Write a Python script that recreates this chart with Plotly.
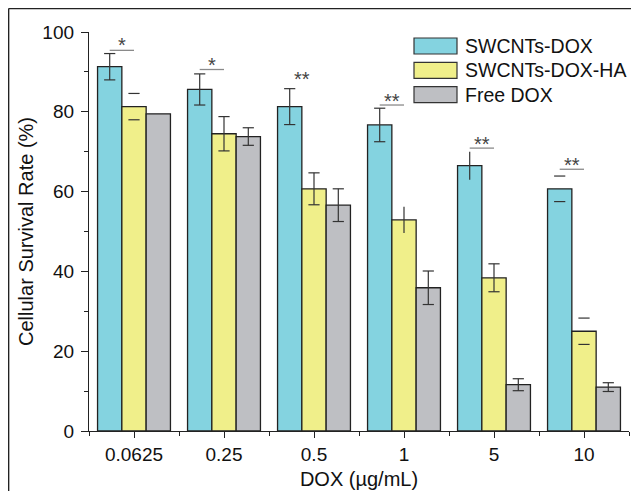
import plotly.graph_objects as go

# ---------------- data ----------------
categories = ["0.0625", "0.25", "0.5", "1", "5", "10"]
series_names = ["SWCNTs-DOX", "SWCNTs-DOX-HA", "Free DOX"]

swcnts_dox = [91.3, 85.6, 81.3, 76.7, 66.5, 60.7]
swcnts_dox_err = [3.3, 3.9, 4.5, 4.2, 3.5, 3.2]

swcnts_dox_ha = [81.3, 74.5, 60.7, 52.9, 38.4, 25.0]
swcnts_dox_ha_err = [3.3, 4.3, 4.0, 3.3, 3.5, 3.3]

free_dox = [79.5, 73.8, 56.6, 35.9, 11.6, 11.0]
free_dox_err = [0.0, 2.2, 4.1, 4.2, 1.5, 1.1]

# which parts of each error bar are drawn in the original figure
stem_shown = [
    [True, True, True, True, True, False],
    [False, True, True, True, True, False],
    [False, True, True, True, True, True],
]
caps_shown = [
    [True, True, True, True, False, True],
    [True, True, True, False, True, True],
    [False, True, True, True, True, True],
]

# significance annotations (cyan vs yellow)
sig_labels = ["*", "*", "**", "**", "**", "**"]
sig_line_y = [95.4, 90.6, None, 81.7, 70.9, 65.6]
sig_star_y = [96.8, 91.8, 88.2, 82.8, 72.0, 66.7]

y_ticks = [0, 20, 40, 60, 80, 100]

# ---------------- style ----------------
colors = ["#84D3E0", "#F0EF8A", "#BEBFC3"]
values = [swcnts_dox, swcnts_dox_ha, free_dox]
errors = [swcnts_dox_err, swcnts_dox_ha_err, free_dox_err]
FONT = "Liberation Sans, Arial, sans-serif"
W, H = 631, 483            # page body has an 8px margin
ML, MR, MT, MB = 81, 10, 24, 60
PW, PH = W - ML - MR, H - MT - MB
BARGAP = 0.19
barw = (1 - BARGAP) / 3
offsets = [(k - 1) * barw for k in range(3)]
xs = list(range(len(categories)))

fig = go.Figure()
for k in range(3):
    fig.add_trace(go.Bar(
        x=xs, y=values[k], name=series_names[k],
        marker=dict(color=colors[k], line=dict(color="#222222", width=1.3)),
        error_y=dict(type="data",
                     array=[e if s else 0 for e, s in zip(errors[k], stem_shown[k])],
                     visible=True, width=0, thickness=1.2, color="#333333"),
        showlegend=False,
    ))
# caps
for k in range(3):
    cx, cy = [], []
    for i in xs:
        if caps_shown[k][i]:
            for sgn in (1, -1):
                cx.append(i + offsets[k])
                cy.append(values[k][i] + sgn * errors[k][i])
    fig.add_trace(go.Scatter(
        x=cx, y=cy, mode="markers",
        marker=dict(symbol="line-ew", size=8, line=dict(color="#333333", width=1.2)),
        showlegend=False, hoverinfo="skip",
    ))

shapes = []
annotations = []
for i in xs:
    xm = i + (offsets[0] + offsets[1]) / 2
    if sig_line_y[i] is not None:
        shapes.append(dict(type="line", xref="x", yref="y",
                           x0=i + offsets[0], x1=i + offsets[1],
                           y0=sig_line_y[i], y1=sig_line_y[i],
                           line=dict(color="#8a8a8a", width=1.3)))
    annotations.append(dict(x=xm, y=sig_star_y[i], xref="x", yref="y",
                            text=sig_labels[i], showarrow=False,
                            font=dict(family=FONT, size=20, color="#444444"),
                            yanchor="middle", xanchor="center"))

# figure border (left & top edges visible)
bx = (0.6 - ML) / PW
by = (H - MB - 0.6) / PH
shapes.append(dict(type="line", xref="paper", yref="paper", x0=bx, x1=bx, y0=by, y1=-1,
                   line=dict(color="#222222", width=1.5)))
shapes.append(dict(type="line", xref="paper", yref="paper", x0=bx, x1=2, y0=by, y1=by,
                   line=dict(color="#222222", width=1.5)))

# custom legend (wide swatches)
leg_x0 = (406 - ML) / PW
leg_x1 = (449 - ML) / PW
leg_tx = (455 - ML) / PW
for k in range(3):
    yc = 38 + 24.3 * k
    y0 = (H - MB - (yc + 8)) / PH
    y1 = (H - MB - (yc - 8)) / PH
    shapes.append(dict(type="rect", xref="paper", yref="paper",
                       x0=leg_x0, x1=leg_x1, y0=y0, y1=y1,
                       fillcolor=colors[k], line=dict(color="#333333", width=1.2)))
    annotations.append(dict(x=leg_tx, y=(H - MB - yc) / PH, xref="paper", yref="paper",
                            text=series_names[k], showarrow=False, xanchor="left",
                            yanchor="middle",
                            font=dict(family=FONT, size=19.5, color="#111111")))

fig.update_layout(
    width=W, height=H,
    margin=dict(l=ML, r=MR, t=MT, b=MB, autoexpand=False),
    paper_bgcolor="white", plot_bgcolor="white",
    barmode="group", bargap=BARGAP, bargroupgap=0,
    font=dict(family=FONT, size=19, color="#111111"),
    shapes=shapes, annotations=annotations,
    showlegend=False,
)
fig.update_xaxes(
    range=[-0.5, 5.5], tickmode="array", tickvals=xs, ticktext=categories,
    ticks="outside", ticklen=6, tickwidth=1.3, tickcolor="#222222",
    showline=True, linewidth=1.3, linecolor="#222222", showgrid=False, zeroline=False,
    minor=dict(tick0=0.5, dtick=1, ticks="outside", ticklen=4, tickwidth=1.3,
               tickcolor="#222222", showgrid=False),
    tickfont=dict(family=FONT, size=19, color="#111111"),
    title=dict(text="DOX (\u00b5g/mL)", font=dict(family=FONT, size=20, color="#111111"),
               standoff=8),
    automargin=False,
)
fig.update_yaxes(
    range=[0, 100], tickmode="array", tickvals=y_ticks,
    ticks="outside", ticklen=7, tickwidth=1.3, tickcolor="#222222",
    showline=True, linewidth=1.3, linecolor="#222222", showgrid=False, zeroline=False,
    minor=dict(tick0=10, dtick=20, ticks="outside", ticklen=4, tickwidth=1.3,
               tickcolor="#222222", showgrid=False),
    tickfont=dict(family=FONT, size=19, color="#111111"),
    ticklabelstandoff=3,
    title=dict(text="Cellular Survival Rate (%)",
               font=dict(family=FONT, size=20, color="#111111"), standoff=3),
    automargin=False,
)

fig.write_html("out.html")
